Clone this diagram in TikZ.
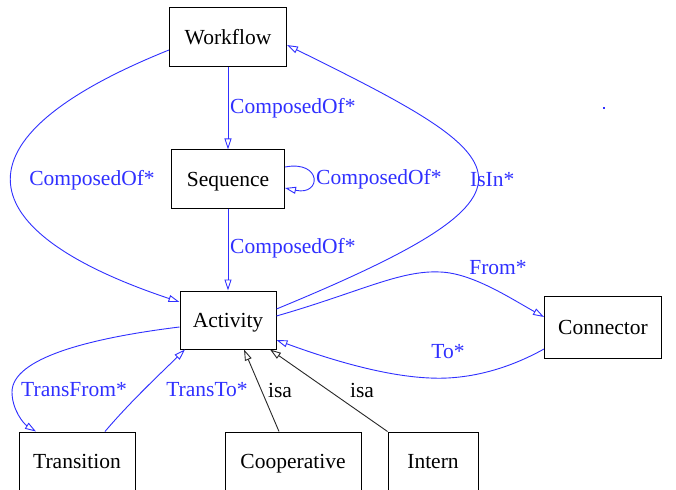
\documentclass[tikz,border=0pt]{standalone}
\usepackage{fontspec}
\setmainfont{Liberation Serif}
\usetikzlibrary{arrows.meta,calc}
\definecolor{edgeblue}{RGB}{48,48,255}
\definecolor{isagray}{RGB}{40,40,40}
\begin{document}
\begin{tikzpicture}[x=1pt,y=-1pt,
  every node/.style={font=\fontsize{21.5}{24}\selectfont, inner sep=0pt},
  cls/.style={draw=black, line width=1pt, fill=white, minimum height=58pt, text height=18pt, text depth=3pt},
  rel/.style={draw=edgeblue, line width=0.9pt, -{Triangle[open,length=11pt,width=7pt]}},
  isarel/.style={draw=isagray, line width=0.9pt, -{Triangle[open,length=11pt,width=7pt]}},
  rlab/.style={text=edgeblue},
  ilab/.style={text=black}]
\useasboundingbox (0,0) rectangle (676,489);
\clip (0,0) rectangle (676,489);
\fill[white] (0,0) rectangle (676,489);

\node[cls, minimum width=117pt, minimum height=59pt] (wf) at (228,37) {Workflow};
\node[cls, minimum width=113pt] (sq) at (228,179) {Sequence};
\node[cls, minimum width=96pt] (ac) at (228,320) {Activity};
\node[cls, minimum width=117pt, minimum height=62pt] (cn) at (603,327) {Connector};
\node[cls, minimum width=116pt] (tr) at (77,461) {Transition};
\node[cls, minimum width=136pt] (co) at (293,461) {Cooperative};
\node[cls, minimum width=90pt] (in) at (433,461) {Intern};

% Workflow -> Sequence
\draw[rel] (wf.south) -- (sq.north);
\node[rlab, anchor=west] (l1) at (230,108) {ComposedOf*};
% Sequence self loop
\draw[rel] ($(sq.east)+(0,-12)$) .. controls (322,160) and (322,196) .. ($(sq.east)+(0,9)$);
\node[rlab, anchor=west] (l2) at (316,179) {ComposedOf*};
% Sequence -> Activity
\draw[rel] (sq.south) -- (ac.north);
\node[rlab, anchor=west] (l3) at (230,248) {ComposedOf*};
% Workflow -> Activity (left)
\draw[rel] ($(wf.west)+(0,13)$) .. controls (-55,140) and (-30,232) .. ($(ac.west)+(0,-18)$);
\node[rlab] (l4) at (92,180) {ComposedOf*};
% Activity -> Workflow IsIn
\draw[rel] ($(ac.east)+(0,-11)$) .. controls (565,190) and (520,160) .. ($(wf.east)+(0,8)$);
\node[rlab, anchor=west] (l5) at (470,180) {IsIn*};
% Activity -> Connector From
\draw[rel] ($(ac.east)+(0,-4)$) .. controls (360,292) and (400,270) .. (440,272)
  .. controls (472,273) and (510,298) .. ($(cn.west)+(0,-10)$);
\node[rlab] (l6) at (498,268) {From*};
% Connector -> Activity To
\draw[rel] ($(cn.west)+(0,22)$) .. controls (510,368) and (470,380) .. (430,378)
  .. controls (380,376) and (320,356) .. ($(ac.east)+(0,20)$);
\node[rlab] (l7) at (448,352) {To*};
% Activity -> Transition
\draw[rel] ($(ac.west)+(0,7)$) .. controls (90,338) and (12,358) .. (12,392)
  .. controls (12,410) and (24,424) .. ($(tr.north)+(-41,0)$);
\node[rlab] (l8) at (74,390) {TransFrom*};
% Transition -> Activity
\draw[rel] ($(tr.north)+(28,0)$) .. controls (130,402) and (160,374) .. ($(ac.south)+(-43,0)$);
\node[rlab] (l9) at (207,390) {TransTo*};
% isa
\draw[isarel] ($(co.north)+(-14,0)$) -- ($(ac.south)+(16,0)$);
\node[ilab] (l10) at (280,390) {isa};
\draw[isarel] (in.north west) -- ($(ac.south)+(42,0)$);
\node[ilab] (l11) at (362,390) {isa};

\fill[edgeblue] (603,107) rectangle (605,109);
\end{tikzpicture}
\end{document}
